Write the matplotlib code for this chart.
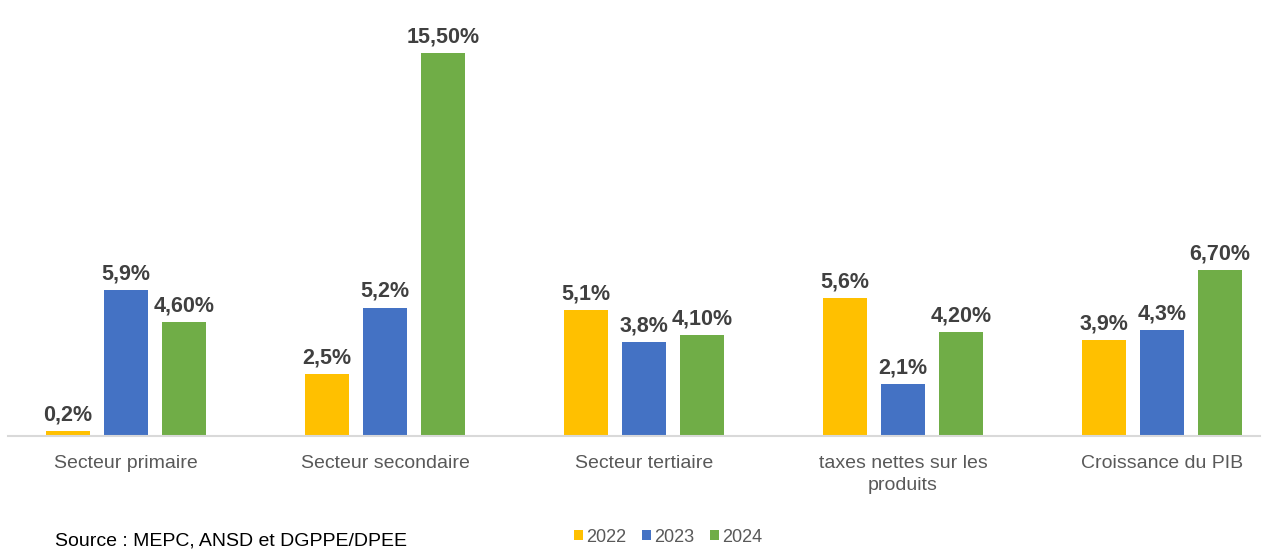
import numpy as np
import matplotlib.pyplot as plt

categories = ["Secteur primaire", "Secteur secondaire", "Secteur tertiaire",
              "taxes nettes sur les\nproduits", "Croissance du PIB"]
years = ["2022", "2023", "2024"]
v2022 = [0.2, 2.5, 5.1, 5.6, 3.9]
v2023 = [5.9, 5.2, 3.8, 2.1, 4.3]
v2024 = [4.6, 15.5, 4.1, 4.2, 6.7]
lab2022 = ["0,2%", "2,5%", "5,1%", "5,6%", "3,9%"]
lab2023 = ["5,9%", "5,2%", "3,8%", "2,1%", "4,3%"]
lab2024 = ["4,60%", "15,50%", "4,10%", "4,20%", "6,70%"]
colors = ["#FFC000", "#4472C4", "#70AD47"]

plt.rcParams['font.family'] = ['Liberation Sans', 'DejaVu Sans']

W, H = 1266, 550
fig = plt.figure(figsize=(W / 100, H / 100), dpi=100)
ax = fig.add_axes([8 / W, 1 - 436 / H, (1260 - 8) / W, 436 / H])

x = np.arange(len(categories))
step = 0.224
width = 0.17
series = [(v2022, lab2022), (v2023, lab2023), (v2024, lab2024)]
for k, (vals, labs) in enumerate(series):
    pos = x + (k - 1) * step
    bars = ax.bar(pos, vals, width=width, color=colors[k], label=years[k], zorder=2)
    for b, t in zip(bars, labs):
        ax.annotate(t, (b.get_x() + b.get_width() / 2, b.get_height()),
                    xytext=(0, 4), textcoords="offset points",
                    ha="center", va="bottom", fontsize=15.5, fontweight="bold",
                    color="#404040")

ax.set_xlim(-0.456, 4.378)
ax.set_ylim(0, 17.65)
ax.set_yticks([])
ax.set_xticks(x)
ax.set_xticklabels(categories, fontsize=14, color="#595959", linespacing=1.35)
ax.tick_params(axis="x", length=0, pad=14)
for s in ["top", "right", "left"]:
    ax.spines[s].set_visible(False)
ax.spines["bottom"].set_color("#D9D9D9")
ax.spines["bottom"].set_linewidth(1.5)

fig.legend(loc="center", bbox_to_anchor=(668 / W, 1 - 537 / H), ncol=3,
           frameon=False, fontsize=13, handlelength=0.5, handleheight=0.5,
           handletextpad=0.15, columnspacing=0.9, labelcolor="#595959",
           borderpad=0)

fig.text(55 / W, 1 - 546 / H, "Source : MEPC, ANSD et DGPPE/DPEE",
         fontsize=14, color="#000000", va="baseline", ha="left")

fig.savefig("out.png", dpi=100)
